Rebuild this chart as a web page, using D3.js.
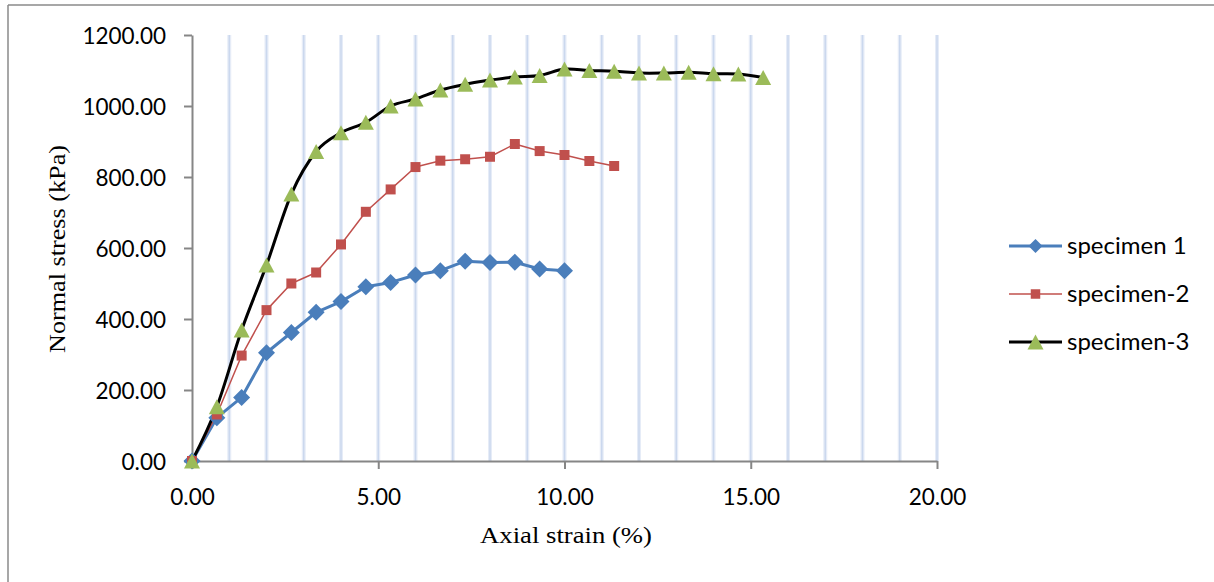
<!DOCTYPE html>
<html>
<head>
<meta charset="utf-8">
<script src="https://cdn.jsdelivr.net/npm/d3@7"></script>
<style>
  html, body { margin: 0; padding: 0; background: #fff; }
  svg { display: block; }
</style>
</head>
<body>
<svg id="chart" width="1214" height="582"></svg>
<script>
// Axial strain (%) at each reading
const strain = [0, 0.667, 1.333, 2.000, 2.667, 3.333, 4.000, 4.667, 5.333, 6.000,
                6.667, 7.333, 8.000, 8.667, 9.333, 10.000, 10.667, 11.333, 12.000,
                12.667, 13.333, 14.000, 14.667, 15.333];

// Normal stress (kPa) per specimen
const specimen1 = [0, 122, 179, 305, 362, 419, 449, 491, 503, 524, 536, 563, 559, 560, 541, 536];
const specimen2 = [0, 131, 297, 425, 500, 531, 610, 702, 765, 828, 846, 850, 857, 893, 873, 862, 845, 831];
const specimen3 = [0, 153, 369, 552, 752, 872, 925, 954, 1000, 1020, 1045, 1061, 1073, 1082, 1086,
                   1104, 1100, 1098, 1093, 1093, 1095, 1091, 1090, 1080];

const seriesNames = ["specimen 1", "specimen-2", "specimen-3"];
const xTicks = [0, 5, 10, 15, 20];
const yTicks = [0, 200, 400, 600, 800, 1000, 1200];
const xGrid = d3.range(1, 21);

const svg = d3.select("#chart");

// chart frame edges
svg.append("line").attr("x1", 8).attr("y1", 5).attr("x2", 1214).attr("y2", 5)
  .attr("stroke", "#8a8a8a").attr("stroke-width", 1.5);
svg.append("line").attr("x1", 8).attr("y1", 5).attr("x2", 8).attr("y2", 582)
  .attr("stroke", "#8a8a8a").attr("stroke-width", 1.5);

const x = d3.scaleLinear().domain([0, 20]).range([192, 937]);
const y = d3.scaleLinear().domain([0, 1200]).range([461, 35]);

// vertical gridlines: soft halo plus a thin core
const grid = svg.append("g");
grid.selectAll("line.halo").data(xGrid).join("line").attr("class", "halo")
  .attr("x1", d => x(d)).attr("x2", d => x(d))
  .attr("y1", y(1200)).attr("y2", y(0))
  .attr("stroke", "#e6ecf7").attr("stroke-width", 4);
grid.selectAll("line.core").data(xGrid).join("line").attr("class", "core")
  .attr("x1", d => x(d)).attr("x2", d => x(d))
  .attr("y1", y(1200)).attr("y2", y(0))
  .attr("stroke", "#cbd8ee").attr("stroke-width", 1.5);

const tickFont = "Lato, 'Open Sans', sans-serif";

// y axis
const yAxis = svg.append("g").attr("transform", `translate(${x(0)},0)`)
  .call(d3.axisLeft(y).tickValues(yTicks).tickSize(8).tickSizeOuter(0)
    .tickFormat(d3.format(".2f")));
yAxis.select(".domain").attr("stroke", "#868686").attr("stroke-width", 2);
yAxis.selectAll(".tick line").attr("stroke", "#868686").attr("stroke-width", 2);
yAxis.selectAll(".tick text").attr("x", -26).attr("dy", "0.36em")
  .attr("font-family", tickFont).attr("font-size", 22.5).attr("fill", "#000");

// x axis
const xAxis = svg.append("g").attr("transform", `translate(0,${y(0)})`)
  .call(d3.axisBottom(x).tickValues(xTicks).tickSize(8).tickSizeOuter(0)
    .tickFormat(d3.format(".2f")));
xAxis.select(".domain").attr("stroke", "#868686").attr("stroke-width", 2);
xAxis.selectAll(".tick line").attr("stroke", "#868686").attr("stroke-width", 2);
xAxis.selectAll(".tick text").attr("y", 28).attr("dy", "0.71em")
  .attr("font-family", tickFont).attr("font-size", 22.5).attr("fill", "#000");

// axis titles
svg.append("text").attr("x", 566).attr("y", 543).attr("text-anchor", "middle")
  .attr("font-family", "'Liberation Serif', 'Times New Roman', serif").attr("font-size", 24)
  .attr("textLength", 172).attr("lengthAdjust", "spacingAndGlyphs")
  .text("Axial strain (%)");
svg.append("text").attr("transform", "translate(65,249) rotate(-90)").attr("text-anchor", "middle")
  .attr("font-family", "'Liberation Serif', 'Times New Roman', serif").attr("font-size", 24)
  .attr("textLength", 208).attr("lengthAdjust", "spacingAndGlyphs")
  .text("Normal stress (kPa)");

// marker shapes
function diamondPath(r) { return `M0,${-r}L${r},0L0,${r}L${-r},0Z`; }
function squarePath(s) { const h = s / 2; return `M${-h},${-h}H${h}V${h}H${-h}Z`; }
function trianglePath(w, h) { return `M0,${-h / 2}L${w / 2},${h / 2}L${-w / 2},${h / 2}Z`; }

const series = [
  { name: seriesNames[0], values: specimen1, line: "#4a7ebb", lineWidth: 3, curve: d3.curveLinear,
    marker: diamondPath(8.5), legendMarker: diamondPath(7), fill: "#4a7ebb" },
  { name: seriesNames[1], values: specimen2, line: "#c0504d", lineWidth: 1.5, curve: d3.curveLinear,
    marker: squarePath(10), legendMarker: squarePath(9.5), fill: "#c0504d" },
  { name: seriesNames[2], values: specimen3, line: "#000000", lineWidth: 3, curve: d3.curveCardinal.tension(0),
    marker: trianglePath(16, 15), legendMarker: trianglePath(16, 15), fill: "#9bbb59" }
];

const plot = svg.append("g");
series.forEach(s => {
  const pts = s.values.map((v, i) => [strain[i], v]);
  plot.append("path").datum(pts)
    .attr("fill", "none").attr("stroke", s.line).attr("stroke-width", s.lineWidth)
    .attr("stroke-linejoin", "round")
    .attr("d", d3.line().x(d => x(d[0])).y(d => y(d[1])).curve(s.curve));
});
series.forEach(s => {
  const pts = s.values.map((v, i) => [strain[i], v]);
  plot.append("g").selectAll("path").data(pts).join("path")
    .attr("transform", d => `translate(${x(d[0])},${y(d[1])})`)
    .attr("d", s.marker).attr("fill", s.fill);
});

// legend
const legend = svg.append("g");
series.forEach((s, i) => {
  const ly = 246 + i * 48;
  legend.append("line").attr("x1", 1009).attr("x2", 1062).attr("y1", ly).attr("y2", ly)
    .attr("stroke", s.line).attr("stroke-width", s.lineWidth);
  legend.append("path").attr("transform", `translate(1035.5,${ly})`)
    .attr("d", s.legendMarker).attr("fill", s.fill);
  legend.append("text").attr("x", 1067).attr("y", ly + 8)
    .attr("font-family", tickFont).attr("font-size", 24).attr("fill", "#000")
    .text(s.name);
});
</script>
</body>
</html>
